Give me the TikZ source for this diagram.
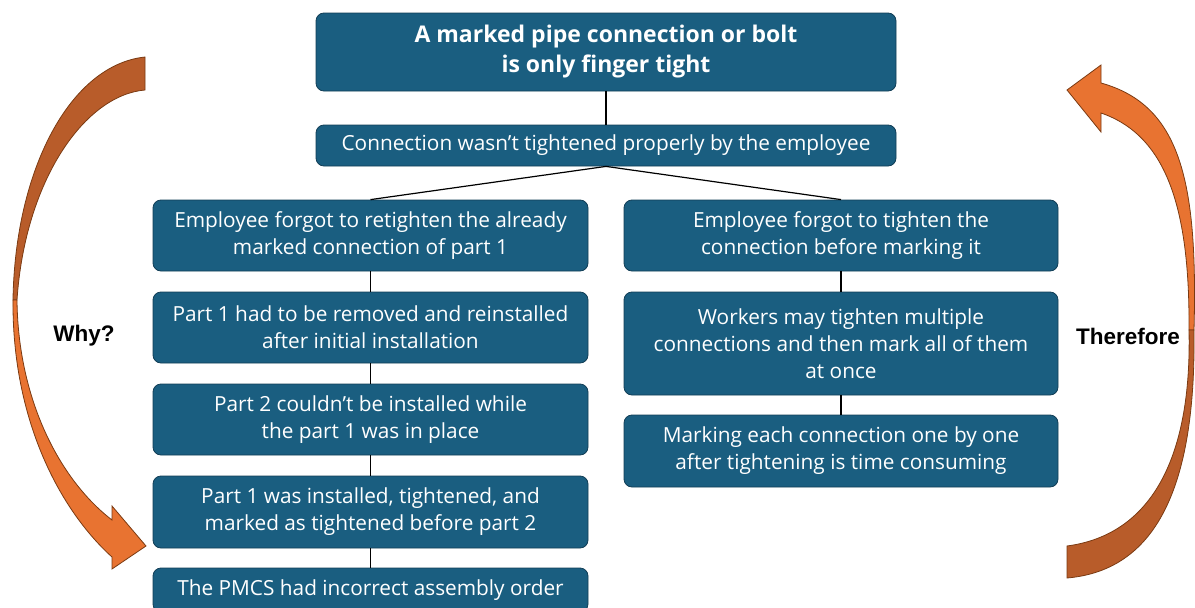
\documentclass[tikz,border=0pt]{standalone}
\usepackage{fontspec}
\setmainfont{Open Sans}
\newfontfamily\arialfont{Liberation Sans}
\usepackage{tikz}
\usetikzlibrary{positioning}

\definecolor{boxblue}{RGB}{26,94,128}
\definecolor{boxline}{RGB}{18,62,86}
\definecolor{arrowdark}{RGB}{184,92,42}
\definecolor{arrowlight}{RGB}{232,115,49}
\definecolor{arrowline}{RGB}{122,58,18}

\tikzset{
  box/.style={draw=boxline, fill=boxblue, line width=0.8pt, rounded corners=8pt,
    text=white, align=center, inner sep=0pt,
    font=\fontsize{20.8}{27}\selectfont},
  leftbox/.style={box, minimum width=435pt},
  rightbox/.style={box, minimum width=434pt},
  link/.style={draw=black, line width=1.2pt},
  bigarrow/.style={draw=arrowline, line width=0.8pt, line join=miter},
  side/.style={font=\arialfont\bfseries\fontsize{22.5}{26}\selectfont}
}

\begin{document}
\begin{tikzpicture}[x=1pt,y=-1pt]
\useasboundingbox (0,0) rectangle (1195,608);

\node[box, minimum width=580pt, minimum height=78pt, font=\bfseries\fontsize{23}{30}\selectfont] (top) at (606,52) {A marked pipe connection or bolt\\is only finger tight};
\node[box, minimum width=580pt, minimum height=41pt] (cause) at (606,145.5) {Connection wasn’t tightened properly by the employee};

	\node[leftbox, minimum height=71pt] (L1) at (370.5,235.5) {Employee forgot to retighten the already\\marked connection of part 1};
	\node[leftbox, minimum height=71pt] (L2) at (370.5,327.5) {Part 1 had to be removed and reinstalled\\after initial installation};
	\node[leftbox, minimum height=71pt] (L3) at (370.5,419.5) {Part 2 couldn’t be installed while\\the part 1 was in place};
	\node[leftbox, minimum height=72pt] (L4) at (370.5,512) {Part 1 was installed, tightened, and\\marked as tightened before part 2};
	\node[leftbox, minimum height=44pt] (L5) at (370.5,590) {The PMCS had incorrect assembly order};

	\node[rightbox, minimum height=71pt] (R1) at (841,235.5) {Employee forgot to tighten the\\connection before marking it};
	\node[rightbox, minimum height=103pt] (R2) at (841,343.5) {Workers may tighten multiple\\connections and then mark all of them\\at once};
	\node[rightbox, minimum height=72pt] (R3) at (841,451) {Marking each connection one by one\\after tightening is time consuming};

	\draw[link] (top) -- (cause);
	\draw[link] (cause.south) -- (L1.north);
	\draw[link] (cause.south) -- (R1.north);
	\draw[link] (L1) -- (L2);
	\draw[link] (L2) -- (L3);
	\draw[link] (L3) -- (L4);
	\draw[link] (L4) -- (L5);
	\draw[link] (R1) -- (R2);
	\draw[link] (R2) -- (R3);

% why arrow, left side
\filldraw[bigarrow, fill=arrowdark] (145,57) .. controls (70,65) and (15,170) .. (13,300)
  -- (17,300) .. controls (25,180) and (85,95) .. (145,90) -- cycle;
\filldraw[bigarrow, fill=arrowlight] (13,300) .. controls (12,420) and (60,510) .. (112,557)
  -- (112,569) -- (146,546) -- (112,506) -- (112,520)
  .. controls (60,480) and (18,400) .. (17,300) -- cycle;

% therefore arrow, right side
\filldraw[bigarrow, fill=arrowlight] (1194,330) .. controls (1198,180) and (1180,105) .. (1101,83)
  -- (1101,65) -- (1067,90) -- (1101,132) -- (1101,113)
  .. controls (1165,135) and (1190,205) .. (1189,330) -- cycle;
\filldraw[bigarrow, fill=arrowdark] (1194,330) .. controls (1196,480) and (1160,570) .. (1067,578)
  -- (1067,546) .. controls (1150,535) and (1192,460) .. (1189,330) -- cycle;

\node[side] (why) at (84,336) {Why?};
\node[side] (therefore) at (1128,336) {Therefore};
\end{tikzpicture}
\end{document}
